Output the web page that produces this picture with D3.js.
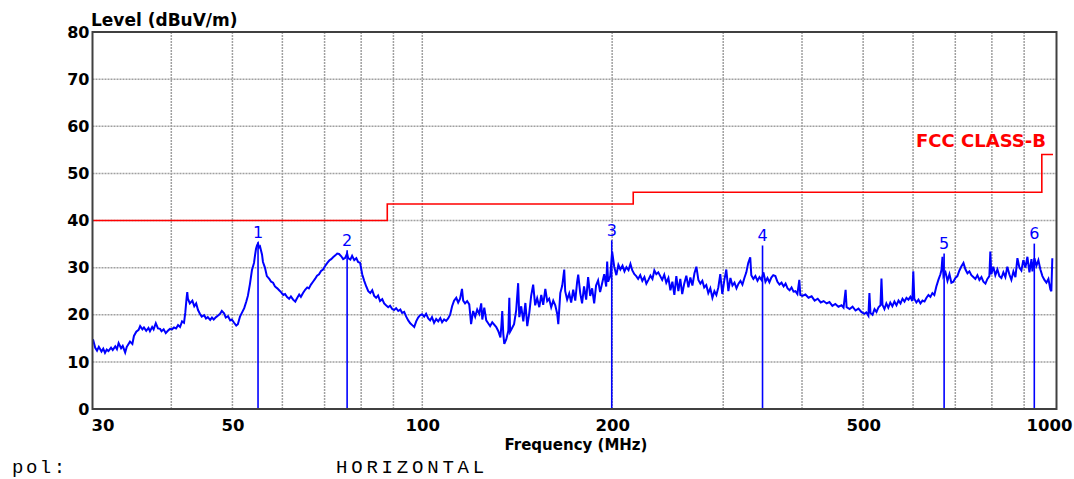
<!DOCTYPE html>
<html><head><meta charset="utf-8">
<script src="https://cdn.jsdelivr.net/npm/d3@7/dist/d3.min.js"></script>
<style>
html,body{margin:0;padding:0;background:#fff;}
svg{display:block;}
</style></head>
<body><svg id="chart" width="1074" height="479"></svg>
<script>
// ---------- data ----------
const xTickLabels = [30, 50, 100, 200, 500, 1000];
const xGridFreqs = [40, 50, 60, 70, 80, 90, 100, 200, 300, 400, 500, 600, 700, 800, 900];
const yTicks = [0, 10, 20, 30, 40, 50, 60, 70, 80];

const limitFreq  = [30, 88, 88, 216, 216, 960, 960, 1000];
const limitLevel = [40, 40, 43.5, 43.5, 46, 46, 54, 54];
const limitName = "FCC CLASS-B";

const markerNo    = ["1", "2", "3", "4", "5", "6"];
const markerFreq  = [54.9, 76.0, 199.7, 346.3, 672, 934];
const markerLevel = [35.4, 33.7, 35.8, 34.7, 33.0, 35.1];

const traceFreq = [
30.05,30.3,30.5,30.7,31.0,31.2,31.4,31.6,31.8,
32.1,32.3,32.6,32.8,33.0,33.3,33.5,33.8,
34.0,34.4,34.7,34.9,35.2,35.5,35.7,36.0,
36.2,36.5,36.8,37.0,37.3,37.5,37.8,38.1,38.4,38.6,38.9,39.2,39.5,39.8,
40.1,40.4,40.7,41.0,41.3,41.6,41.9,
42.1,42.3,42.4,42.5,42.8,43.2,43.5,43.8,
44.1,44.4,44.7,45.1,45.4,45.7,
46.1,46.4,46.7,47.1,47.4,47.8,
48.1,48.5,48.8,49.2,49.6,49.9,
50.3,50.7,51.0,51.4,51.8,
52.2,52.6,52.9,53.3,53.7,
54.1,54.3,54.5,54.7,54.9,55.1,55.3,55.7,55.9,
56.3,56.7,57.2,57.6,58.0,
58.4,58.9,59.3,59.7,
60.2,60.6,61.0,61.5,61.9,62.4,62.9,
63.3,63.8,64.2,64.7,65.2,65.7,
66.1,66.6,67.1,67.6,68.1,68.6,69.1,69.6,
70.1,70.7,71.2,71.7,72.2,72.8,73.3,73.8,
74.4,74.9,75.5,76.0,76.3,76.9,77.4,78.0,
78.6,79.1,79.7,80.3,80.9,81.5,
82.1,82.7,83.3,83.9,84.5,85.1,85.7,
86.4,87.0,87.6,88.3,88.9,89.6,
90.2,90.9,91.6,92.3,92.9,93.6,94.3,95.0,
95.7,96.4,97.1,97.8,98.5,99.2,99.9,
100.7,101.4,102.2,102.9,103.6,104.4,
105.2,106.0,106.8,107.5,108.3,109.1,109.9,
110.7,111.5,112.3,113.2,114.0,114.8,
115.6,116.1,116.9,117.8,118.7,119.1,119.5,
120.4,121.3,122.2,123.1,124.0,124.5,125.4,126.3,127.2,128.1,129.1,
131.0,132.0,133.0,133.5,133.9,134.4,134.9,135.9,136.9,137.4,137.8,138.8,139.8,
140.9,141.9,142.5,143.5,144.6,145.7,146.7,147.8,148.8,149.9,
151.0,152.1,153.3,154.4,155.5,156.7,157.8,158.9,
160.1,161.3,162.5,163.7,164.3,165.5,166.7,167.9,168.5,169.7,
171.0,172.2,173.5,174.8,176.0,176.7,178.0,179.2,
180.5,181.9,183.2,184.6,185.9,187.3,188.6,
190.0,191.4,192.9,194.3,195.7,196.4,197.1,198.6,200.0,
201.5,203.1,204.6,206.1,207.7,209.2,210.7,212.3,213.8,215.3,216.9,218.4,
219.9,221.6,223.3,225.0,226.6,228.3,230.0,231.7,233.3,235.0,236.7,238.4,
240.1,241.9,243.7,245.6,247.4,249.2,251.0,252.8,254.7,256.5,258.3,
260.2,262.2,264.2,266.1,268.1,270.1,272.0,274.0,276.0,278.0,279.9,
282.0,284.1,286.2,288.4,290.5,292.6,294.7,296.8,299.0,
301.1,303.4,305.7,308.0,310.3,312.6,314.9,317.2,319.5,321.8,324.1,326.4,328.7,
331.1,332.4,334.9,337.4,340.0,342.5,345.0,347.5,350.0,352.6,355.1,357.6,
360.1,362.9,365.7,368.4,371.2,374.0,376.7,379.5,382.3,385.0,387.8,390.5,393.3,396.1,397.5,
400.3,405.0,409.6,414.3,418.9,423.6,428.3,432.9,437.6,442.2,446.9,
451.7,456.9,462.1,465.5,469.0,470.7,475.9,481.1,486.3,491.5,496.7,
502.1,505.9,509.7,511.6,513.5,517.4,521.2,525.0,528.9,532.7,534.6,536.6,540.4,544.2,548.1,
552.1,556.3,560.5,564.7,568.9,573.1,577.3,581.5,585.7,589.9,594.1,598.3,
600.5,602.7,607.3,611.9,616.4,621.0,625.6,630.1,634.7,639.2,643.8,648.4,
653.2,658.1,663.0,665.5,668.0,670.4,675.4,680.3,685.2,690.1,695.1,
700.0,705.3,710.6,715.9,721.2,726.5,731.8,737.0,742.3,747.6,
753.1,758.8,764.4,770.1,775.7,781.4,787.0,792.7,795.5,798.3,
804.2,810.2,816.3,822.3,828.3,834.3,840.4,846.4,
852.6,859.0,865.4,871.8,878.2,884.6,891.0,897.4,
904.1,910.8,917.6,924.4,927.7,934.5,941.2,948.0,
955.0,962.1,969.2,976.3,983.4,990.5,994.0,997.5
];
const traceLevel = [
14.8,13.0,12.4,13.2,12.2,12.8,11.9,12.6,12.3,
13.0,12.5,13.3,12.7,14.0,12.9,13.4,12.0,
13.2,14.3,13.8,15.5,16.4,16.8,17.6,16.9,
17.3,16.6,17.2,16.5,17.4,16.9,18.2,17.1,17.0,16.5,16.9,16.1,16.6,17.0,
16.9,17.3,17.1,17.8,17.4,18.6,18.3,
20.5,23.6,24.8,23.4,22.4,23.0,21.8,22.4,
21.0,20.2,19.6,19.9,19.2,19.5,
18.9,19.4,19.0,19.5,19.8,20.2,
20.8,20.3,19.4,19.7,18.8,19.0,
18.3,17.7,18.0,19.6,20.5,
21.4,22.8,24.0,26.5,29.5,
31.0,32.6,34.0,34.7,35.1,34.3,34.5,32.8,31.2,
30.0,28.2,27.6,27.0,26.8,
26.0,25.6,25.2,24.8,
24.2,24.4,23.8,23.4,23.9,23.2,22.8,
23.5,24.3,23.8,24.6,25.3,25.8,
25.6,26.4,27.0,27.6,28.3,28.6,29.3,29.6,
30.3,31.0,31.5,31.8,32.2,32.6,33.0,32.9,
32.4,31.8,32.1,33.0,32.0,31.7,32.5,31.6,
32.0,31.2,31.0,28.6,27.2,26.0,
25.0,24.6,25.2,24.0,23.6,24.1,22.9,
23.3,22.4,22.0,21.6,21.9,21.2,
21.0,21.4,20.8,21.1,20.4,20.6,19.6,18.8,
18.2,17.8,17.4,18.6,19.4,19.9,20.1,
19.6,20.2,19.2,18.8,19.5,18.3,
19.1,18.6,19.3,18.4,19.0,18.7,19.2,
20.0,21.8,23.0,23.6,22.6,23.4,
25.5,23.0,22.4,22.9,22.2,20.2,18.0,
20.8,19.6,21.1,20.2,22.4,19.0,21.5,18.8,18.2,17.6,18.4,
17.4,16.5,15.2,17.8,20.8,16.0,13.8,14.8,16.6,23.6,16.4,17.2,18.0,
21.0,26.7,19.5,21.8,18.6,22.5,17.6,20.4,24.0,26.4,
22.0,23.5,21.6,24.2,22.1,25.5,22.9,23.4,
21.6,23.0,22.0,20.1,18.0,24.6,26.2,29.6,25.0,23.2,
24.5,22.6,25.3,23.0,27.0,28.5,24.6,22.4,
26.0,23.2,28.0,24.0,25.6,22.4,26.2,
27.3,24.8,26.8,28.6,26.0,31.3,27.0,28.2,33.4,
30.2,28.4,30.6,29.6,30.4,29.2,30.1,29.5,30.8,29.4,28.6,28.2,
27.6,28.4,27.2,28.0,26.6,27.4,28.3,27.6,29.4,28.6,29.0,28.2,
27.4,28.5,26.8,27.8,25.2,27.0,24.2,28.2,25.0,27.6,24.4,
26.6,28.3,25.8,27.9,26.2,28.8,30.2,27.4,26.6,27.2,25.8,
26.3,24.6,25.6,23.6,25.0,24.2,25.8,28.6,24.4,
27.2,29.6,25.0,27.8,26.2,26.8,25.6,26.6,27.2,26.4,27.8,29.0,31.0,
32.2,28.4,27.6,28.2,27.2,28.0,27.4,29.0,27.0,27.8,26.9,27.9,
28.4,28.2,27.0,26.4,26.8,26.0,26.6,25.6,25.2,25.8,24.9,25.0,24.4,27.4,24.2,
24.0,24.3,23.6,23.9,23.0,23.4,22.6,22.9,22.4,22.7,21.9,
22.3,21.7,22.0,21.5,25.3,21.6,21.2,21.7,20.9,21.3,20.6,
20.2,20.5,19.8,24.6,20.4,20.0,21.2,20.6,21.6,22.0,27.7,22.1,21.2,22.4,21.5,
22.6,21.8,22.8,22.0,23.0,22.4,23.4,22.8,23.6,23.2,23.8,22.9,
29.2,23.4,22.6,23.2,22.4,23.0,22.8,23.6,24.2,23.8,24.6,24.2,
26.0,27.4,28.6,29.5,32.3,28.2,29.0,27.2,28.6,26.8,27.0,
27.8,28.2,29.4,30.3,31.0,29.6,28.8,29.2,28.4,28.0,
27.6,28.4,27.4,28.0,27.0,26.6,27.6,28.2,33.4,28.6,
30.2,28.4,29.6,28.2,27.8,29.0,28.0,30.2,
28.6,27.4,29.2,28.0,32.0,30.0,29.4,31.6,
30.0,32.3,29.0,31.8,29.2,32.0,30.4,31.6,
29.6,28.2,27.4,26.8,27.6,25.4,25.0,32.0
];

// ---------- drawing ----------
const svg = d3.select("#chart");
const L = 92.5, R = 1053, T = 32, B = 409, FRAME_R = 1056.5;
const x = d3.scaleLog().domain([30, 1000]).range([L, R]);
const y = d3.scaleLinear().domain([0, 80]).range([B, T]);

svg.append("rect").attr("width", 1074).attr("height", 479).attr("fill", "#fff");

// grid
const grid = svg.append("g").attr("stroke", "#a0a0a0").attr("stroke-width", 1.5).attr("stroke-dasharray", "2,1");
grid.selectAll("line.v").data(xGridFreqs).join("line")
  .attr("x1", d => x(d)).attr("x2", d => x(d)).attr("y1", T).attr("y2", B);
grid.selectAll("line.h").data(yTicks.slice(1, -1)).join("line")
  .attr("x1", L).attr("x2", FRAME_R).attr("y1", d => y(d)).attr("y2", d => y(d));

// limit line
const limitData = d3.zip(limitFreq, limitLevel);
svg.append("path").datum(limitData)
  .attr("fill", "none").attr("stroke", "#ff0000").attr("stroke-width", 1.6)
  .attr("d", d3.line().x(d => x(d[0])).y(d => y(d[1])));
svg.append("text").text(limitName)
  .attr("x", 1046).attr("y", 147).attr("text-anchor", "end")
  .attr("fill", "#ff0000").attr("font-family", "DejaVu Sans").attr("font-weight", "bold")
  .attr("font-size", 17).attr("textLength", 130).attr("lengthAdjust", "spacingAndGlyphs");

// trace
const n = Math.min(traceFreq.length, traceLevel.length);
const traceData = d3.range(n).map(i => [traceFreq[i], traceLevel[i]]);
svg.append("path").datum(traceData)
  .attr("fill", "none").attr("stroke", "#0000ff").attr("stroke-width", 2)
  .attr("stroke-linejoin", "miter")
  .attr("d", d3.line().x(d => x(d[0])).y(d => y(d[1])));

// markers
const markers = d3.range(markerNo.length).map(i => ({n: markerNo[i], f: markerFreq[i], v: markerLevel[i]}));
const mg = svg.append("g");
mg.selectAll("line").data(markers).join("line")
  .attr("x1", d => x(d.f)).attr("x2", d => x(d.f))
  .attr("y1", d => y(d.v)).attr("y2", B)
  .attr("stroke", "#0000ff").attr("stroke-width", 1.6);
mg.selectAll("text").data(markers).join("text")
  .text(d => d.n)
  .attr("x", d => x(d.f)).attr("y", d => y(d.v) - 4.5)
  .attr("text-anchor", "middle").attr("fill", "#0000ff")
  .attr("font-family", "DejaVu Sans").attr("font-size", 16);

// frame
svg.append("rect").attr("x", L).attr("y", T).attr("width", FRAME_R - L).attr("height", B - T)
  .attr("fill", "none").attr("stroke", "#404040").attr("stroke-width", 2);

// axes (labels only)
const xAxis = d3.axisBottom(x).tickValues(xTickLabels).tickSize(0).tickPadding(10)
  .tickFormat(d3.format("d"));
const gx = svg.append("g").attr("transform", `translate(0,${B})`).call(xAxis);
gx.select(".domain").remove();
gx.selectAll("text").attr("font-family", "DejaVu Sans").attr("font-weight", "bold")
  .attr("font-size", 16.5).attr("fill", "#000")
  .attr("dx", d => d === 30 ? 10 : (d === 1000 ? -4 : 0));

const yAxis = d3.axisLeft(y).tickValues(yTicks).tickSize(0).tickPadding(3);
const gy = svg.append("g").attr("transform", `translate(${L},0)`).call(yAxis);
gy.select(".domain").remove();
gy.selectAll("text").attr("font-family", "DejaVu Sans").attr("font-weight", "bold")
  .attr("font-size", 16).attr("fill", "#000");

// titles
svg.append("text").text("Level (dBuV/m)").attr("x", 91).attr("y", 26)
  .attr("font-family", "DejaVu Sans").attr("font-weight", "bold").attr("font-size", 17);
svg.append("text").text("Frequency (MHz)").attr("x", 576).attr("y", 450).attr("text-anchor", "middle")
  .attr("font-family", "DejaVu Sans").attr("font-weight", "bold").attr("font-size", 15);

// footer
const footer = svg.append("g").attr("font-family", "Liberation Mono").attr("font-size", 19).attr("fill", "#000");
footer.append("text").text("pol:").attr("x", 12).attr("y", 473).attr("letter-spacing", 2.5);
footer.append("text").text("HORIZONTAL").attr("x", 336).attr("y", 473).attr("letter-spacing", 3.8);
</script>
</body></html>
